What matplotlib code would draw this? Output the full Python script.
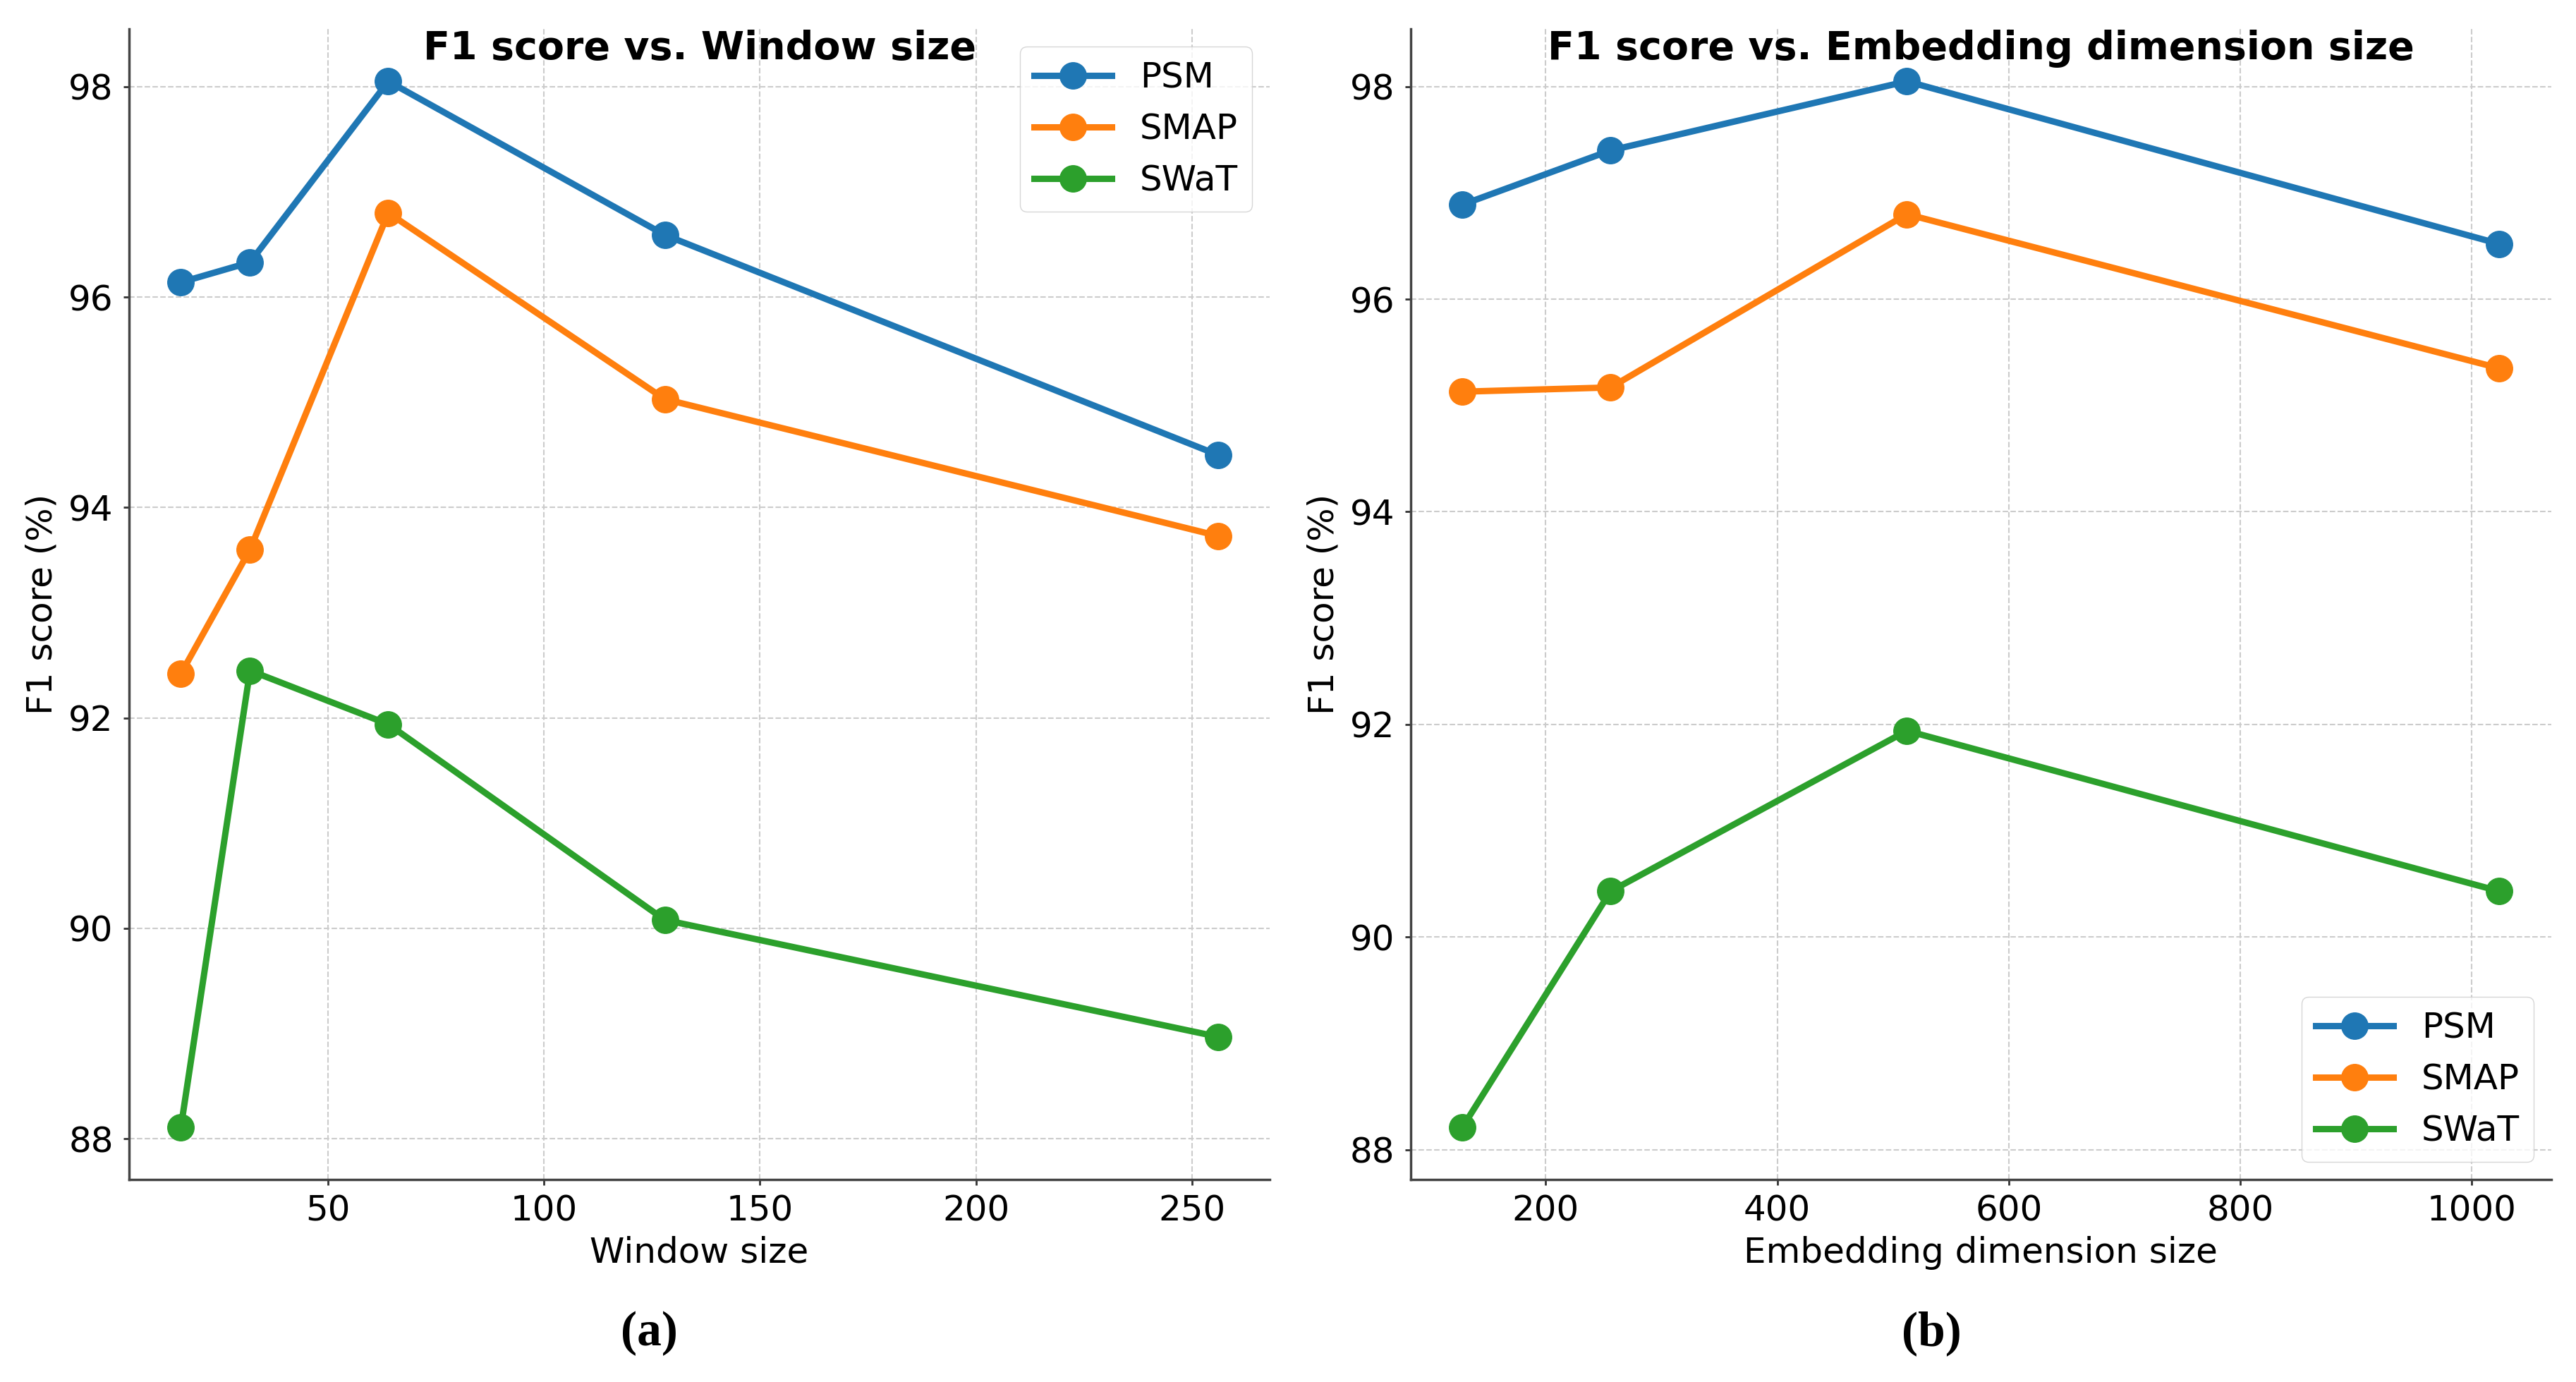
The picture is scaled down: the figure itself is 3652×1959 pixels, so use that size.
import matplotlib
matplotlib.use("Agg")
import matplotlib.pyplot as plt

# data
window_sizes = [16, 32, 64, 128, 256]
psm_win = [96.14, 96.33, 98.05, 96.59, 94.50]
smap_win = [92.42, 93.60, 96.80, 95.03, 93.73]
swat_win = [88.11, 92.45, 91.94, 90.08, 88.97]

emb_sizes = [128, 256, 512, 1024]
psm_emb = [96.89, 97.40, 98.05, 96.52]
smap_emb = [95.13, 95.17, 96.80, 95.35]
swat_emb = [88.21, 90.43, 91.94, 90.43]

names = ["PSM", "SMAP", "SWaT"]
colors = ["#1f77b4", "#ff7f0e", "#2ca02c"]

fig = plt.figure(figsize=(36.52, 19.59), dpi=100)
ax1 = fig.add_axes([0.0501, 0.1465, 0.4428, 0.8325])
ax2 = fig.add_axes([0.5476, 0.1465, 0.4428, 0.8325])

def draw(ax, x, series, title, xlabel, loc):
    for s, name, c in zip(series, names, colors):
        ax.plot(x, s, marker='o', color=c, lw=6.5, ms=27, label=name)
    ax.set_title(title, fontsize=40, fontweight='bold', y=0.974, pad=0)
    ax.set_xlabel(xlabel, fontsize=36, labelpad=8)
    ax.set_ylabel("F1 score (%)", fontsize=36, labelpad=10)
    ax.tick_params(labelsize=36, width=2, length=6, color='#333333')
    ax.tick_params(axis='y', pad=10)
    ax.tick_params(axis='x', pad=9)
    ax.grid(True, ls='--', lw=1.5, color='#cccccc')
    for sp in ['top', 'right']:
        ax.spines[sp].set_visible(False)
    for sp in ['left', 'bottom']:
        ax.spines[sp].set_linewidth(2.5)
        ax.spines[sp].set_color('#444444')
    ax.set_yticks([88, 90, 92, 94, 96, 98])
    ax.legend(loc=loc, fontsize=36, handlelength=2.2)

draw(ax1, window_sizes, [psm_win, smap_win, swat_win],
     "F1 score vs. Window size", "Window size", "upper right")
draw(ax2, emb_sizes, [psm_emb, smap_emb, swat_emb],
     "F1 score vs. Embedding dimension size", "Embedding dimension size", "lower right")

fig.text(0.252, 0.035, "(a)", fontsize=50, fontweight='bold', family='Liberation Serif',
         ha='center', va='center')
fig.text(0.7497, 0.035, "(b)", fontsize=50, fontweight='bold', family='Liberation Serif',
         ha='center', va='center')

fig.savefig("out.png", dpi=100)
